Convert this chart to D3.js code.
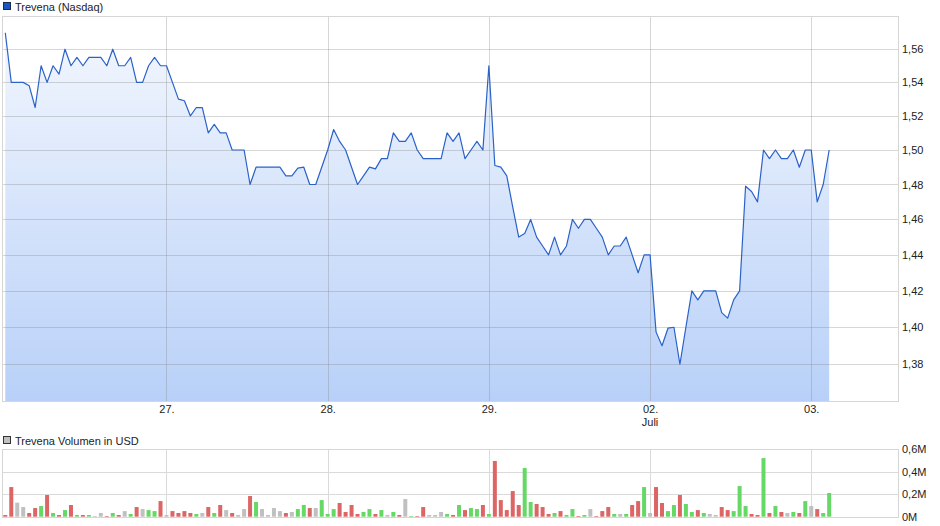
<!DOCTYPE html>
<html><head><meta charset="utf-8">
<script src="https://cdn.jsdelivr.net/npm/d3@7"></script>
<style>
html,body{margin:0;padding:0;background:#fff;}
text{font-family:"Liberation Sans",Arial,sans-serif;font-size:11px;fill:#222;}
</style></head>
<body>
<svg id="chart" width="940" height="526"></svg>
<script>
// ---- data ----
const prices = [1.57,1.54,1.54,1.54,1.538,1.525,1.55,1.54,1.55,1.545,1.56,1.55,1.555,1.55,1.555,1.555,1.555,1.55,1.56,1.55,1.55,1.555,1.54,1.54,1.55,1.555,1.55,
1.55,1.54,1.53,1.529,1.52,1.525,1.525,1.51,1.515,1.51,1.51,1.50,1.50,1.50,1.48,1.49,1.49,1.49,1.49,1.49,1.485,1.485,1.4895,1.49,1.48,1.48,1.49,
1.50,1.512,1.505,1.50,1.49,1.48,1.485,1.49,1.489,1.495,1.495,1.51,1.505,1.505,1.51,1.50,1.495,1.495,1.495,1.495,1.51,1.505,1.51,1.495,1.50,1.505,1.50,
1.55,1.491,1.49,1.485,1.467,1.45,1.452,1.46,1.45,1.445,1.44,1.45,1.44,1.445,1.46,1.455,1.46,1.46,1.455,1.45,1.44,1.445,1.445,1.45,1.44,1.43,1.44,
1.44,1.3975,1.39,1.3995,1.40,1.38,1.40,1.42,1.415,1.42,1.42,1.42,1.408,1.405,1.415,1.42,1.479,1.476,1.47,1.50,1.495,1.50,1.495,1.495,1.50,1.49,1.50,
1.50,1.47,1.48,1.50];
const prevClose = 1.58;
const volumes = [0.015,0.264,0.125,0.086,0.033,0.077,0.095,0.193,0.033,0.015,0.059,0.104,0.015,0.015,0.015,0.006,0.033,0.006,0.033,0.015,0.05,0.024,0.086,0.068,0.059,0.05,0.139,
0.015,0.05,0.033,0.05,0.033,0.024,0.033,0.086,0.033,0.104,0.059,0.033,0.015,0.068,0.184,0.131,0.068,0.015,0.077,0.05,0.033,0.042,0.068,0.104,0.077,0.077,0.148,
0.024,0.068,0.122,0.042,0.104,0.024,0.042,0.068,0.024,0.059,0.015,0.042,0.015,0.157,0.006,0.006,0.086,0.015,0.015,0.042,0.024,0.015,0.104,0.059,0.077,0.068,0.104,
0.024,0.496,0.148,0.059,0.228,0.104,0.433,0.131,0.113,0.086,0.024,0.033,0.05,0.015,0.068,0.006,0.015,0.068,0.006,0.05,0.086,0.024,0.024,0.024,0.104,0.139,0.264,
0.033,0.264,0.122,0.05,0.104,0.193,0.113,0.042,0.059,0.033,0.024,0.015,0.086,0.059,0.05,0.273,0.095,0.024,0.015,0.522,0.033,0.095,0.042,0.033,0.042,0.033,0.139,
0.095,0.068,0.033,0.211];
const dayTickIndex = [27, 54, 81, 108, 135];
const dayTickLabels = ["27.", "28.", "29.", "02.", "03."];
const monthLabel = {index: 108, text: "Juli"};
const priceTicks = [1.38,1.40,1.42,1.44,1.46,1.48,1.50,1.52,1.54,1.56];
const volumeTicks = [0, 0.2, 0.4, 0.6];
const priceTitle = "Trevena (Nasdaq)";
const volumeTitle = "Trevena Volumen in USD";

// ---- layout ----
const svg = d3.select("#chart");
const L = 3, R = 898;
const pTop = 16, pBot = 401;
const vTop = 449.3, vBot = 516.7;
const gridCol = "rgba(130,130,130,0.32)";
const frameCol = "#d6d6d6";

const x = d3.scaleLinear().domain([-0.385, 149.53]).range([L, R]);
const y = d3.scaleLog().domain([1.3604, 1.5803]).range([pBot, pTop]);
const yv = d3.scaleLinear().domain([0, 0.6]).range([vBot, vTop]);

const fmtP = d3.format(".2f");
const comma = s => s.replace(".", ",");

// gradient
const defs = svg.append("defs");
const grad = defs.append("linearGradient").attr("id","areaGrad")
  .attr("gradientUnits","userSpaceOnUse").attr("x1",0).attr("x2",0).attr("y1",pTop).attr("y2",pBot);
grad.append("stop").attr("offset","0%").attr("stop-color","#f4f8fe");
grad.append("stop").attr("offset","100%").attr("stop-color","#b8d0f8");

// legends
svg.append("rect").attr("x",3.5).attr("y",2.5).attr("width",7).attr("height",7)
  .attr("fill","#1a56c2").attr("stroke","#1a2a50").attr("stroke-width",1);
svg.append("text").attr("x",15).attr("y",10.5).text(priceTitle);
svg.append("rect").attr("x",3.5).attr("y",436.5).attr("width",7).attr("height",7)
  .attr("fill","#c0c0c0").attr("stroke","#333").attr("stroke-width",1);
svg.append("text").attr("x",15).attr("y",444.5).text(volumeTitle);

// ---- price panel ----
const area = d3.area().x((d,i)=>x(i)).y0(pBot).y1(d=>y(d));
const line = d3.line().x((d,i)=>x(i)).y(d=>y(d));
svg.append("path").datum(prices).attr("d",area).attr("fill","url(#areaGrad)");

// grid over area
const gP = svg.append("g");
gP.selectAll("line.h").data(priceTicks).join("line")
  .attr("x1",L).attr("x2",R).attr("y1",d=>Math.round(y(d))+0.5).attr("y2",d=>Math.round(y(d))+0.5)
  .attr("stroke",gridCol);
gP.selectAll("line.v").data(dayTickIndex).join("line")
  .attr("x1",d=>Math.round(x(d))+0.5).attr("x2",d=>Math.round(x(d))+0.5).attr("y1",pTop).attr("y2",pBot)
  .attr("stroke",gridCol);

svg.append("path").datum(prices).attr("d",line).attr("fill","none")
  .attr("stroke","#2a62c8").attr("stroke-width",1.2).attr("stroke-linejoin","round");

// frame
svg.append("rect").attr("x",L-0.5).attr("y",pTop+0.5).attr("width",R-L+1).attr("height",pBot-pTop)
  .attr("fill","none").attr("stroke",frameCol);

// y axis labels (right)
const yAxis = d3.axisRight(y).tickValues(priceTicks).tickSize(0).tickPadding(4)
  .tickFormat(d=>comma(fmtP(d)));
const ya = svg.append("g").attr("transform",`translate(${R},0)`).call(yAxis);
ya.select(".domain").remove();
ya.selectAll("text").attr("font-size",11).attr("fill","#222");

// x axis labels
const xAxis = d3.axisBottom(x).tickValues(dayTickIndex).tickSize(0).tickPadding(4)
  .tickFormat((d,i)=>dayTickLabels[i]);
const xa = svg.append("g").attr("transform",`translate(0,${pBot})`).call(xAxis);
xa.select(".domain").remove();
xa.selectAll("text").attr("font-size",11).attr("fill","#222");
svg.append("text").attr("x",x(monthLabel.index)).attr("y",426).attr("text-anchor","middle").text(monthLabel.text);

// ---- volume panel ----
const gV = svg.append("g");
gV.selectAll("line.h").data(volumeTicks).join("line")
  .attr("x1",L).attr("x2",R).attr("y1",d=>Math.round(yv(d))+0.5).attr("y2",d=>Math.round(yv(d))+0.5)
  .attr("stroke","#dadada");
gV.selectAll("line.v").data(dayTickIndex).join("line")
  .attr("x1",d=>Math.round(x(d))+0.5).attr("x2",d=>Math.round(x(d))+0.5).attr("y1",vTop).attr("y2",vBot)
  .attr("stroke","#dadada");
svg.append("rect").attr("x",L-0.5).attr("y",Math.round(vTop)+0.5).attr("width",R-L+1).attr("height",Math.round(vBot)-Math.round(vTop))
  .attr("fill","none").attr("stroke",frameCol);

const dirColor = (d,i) => {
  const prev = i === 0 ? prevClose : prices[i-1];
  const cur = prices[i];
  if (cur > prev + 1e-9) return "#66d866";
  if (cur < prev - 1e-9) return "#dc6666";
  return "#c0c0c0";
};
svg.append("g").selectAll("rect").data(volumes).join("rect")
  .attr("x",(d,i)=>x(i)-2).attr("width",4)
  .attr("y",d=>yv(d)).attr("height",d=>vBot-yv(d))
  .attr("fill",dirColor);

const vAxis = d3.axisRight(yv).tickValues(volumeTicks).tickSize(0).tickPadding(4)
  .tickFormat(d => d === 0 ? "0M" : comma(d3.format(".1f")(d)) + "M");
const va = svg.append("g").attr("transform",`translate(${R},0)`).call(vAxis);
va.select(".domain").remove();
va.selectAll("text").attr("font-size",11).attr("fill","#222");
</script>
</body></html>
